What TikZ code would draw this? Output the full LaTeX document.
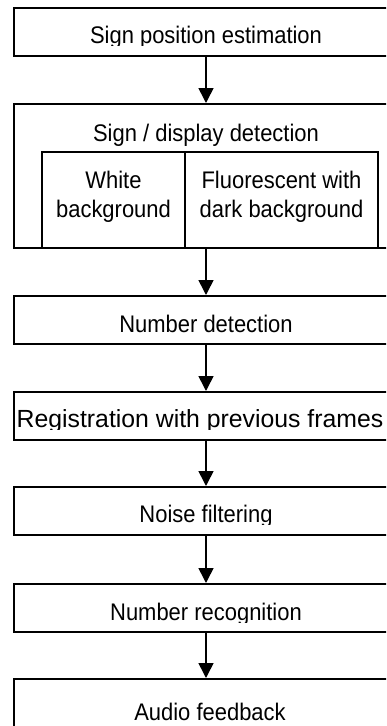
\documentclass[tikz,border=0pt]{standalone}
\usepackage{fontspec}
% narrow, tall sans text for all labels
\setmainfont[FakeStretch=0.915]{Liberation Sans}
\newfontfamily\regfont{Liberation Sans}
\usetikzlibrary{arrows.meta}
\begin{document}
\begin{tikzpicture}[x=1pt, y=-1pt,
  stage/.style={draw, line width=2pt, inner sep=0pt, minimum width=384pt, minimum height=48pt},
  cell/.style={draw, line width=2pt, inner sep=0pt, minimum height=96pt},
  caption/.style={anchor=base, inner sep=0pt, font=\fontsize{24pt}{29pt}\selectfont},
  flow/.style={line width=1.6pt, -{Triangle[width=15pt,length=15pt]}}]
\useasboundingbox (0,0) rectangle (386,726);
\clip (0,0) rectangle (386,726);

% processing stages
\node[stage] (b1) at (206,32) {};
\node[stage, minimum height=144pt] (b2) at (206,176) {};
\node[cell, minimum width=143pt] (c1) at (113.5,200) {};
\node[cell, minimum width=193pt] (c2) at (281.5,200) {};
\node[stage] (b3) at (206,320) {};
\node[stage] (b4) at (206,416) {};
\node[stage] (b5) at (206,511) {};
\node[stage] (b6) at (206,608) {};
\node[stage] (b7) at (206,703) {};

% stage labels (single-line labels are cut just below the baseline)
\begin{scope}
  \clip (0,8) rectangle (386,45);
  \node[caption] (t1) at (206,43) {Sign position estimation};
\end{scope}
\node[caption] (t2) at (206,141) {Sign / display detection};
\node[caption] (t2a) at (113.5,188) {White};
\node[caption] (t2b) at (113.5,217) {background};
\node[caption] (t2c) at (281.5,188) {Fluorescent with};
\node[caption] (t2d) at (281.5,217) {dark background};
\begin{scope}
  \clip (0,296) rectangle (386,334);
  \node[caption] (t3) at (206,332) {Number detection};
\end{scope}
\begin{scope}
  \clip (0,392) rectangle (386,429);
  \node[caption, font=\regfont\fontsize{24.8pt}{30pt}\selectfont] (t4) at (200,427) {Registration with previous frames};
\end{scope}
\begin{scope}
  \clip (0,487) rectangle (386,524);
  \node[caption] (t5) at (206,522) {Noise filtering};
\end{scope}
\begin{scope}
  \clip (0,584) rectangle (386,622);
  \node[caption] (t6) at (206,620) {Number recognition};
\end{scope}
\node[caption] (t7) at (210,720) {Audio feedback};

% connectors
\draw[flow] (b1.south) -- (b2.north);
\draw[flow] (b2.south) -- (b3.north);
\draw[flow] (b3.south) -- (b4.north);
\draw[flow] (b4.south) -- (b5.north);
\draw[flow] (b5.south) -- (b6.north);
\draw[flow] (b6.south) -- (b7.north);
\end{tikzpicture}
\end{document}
